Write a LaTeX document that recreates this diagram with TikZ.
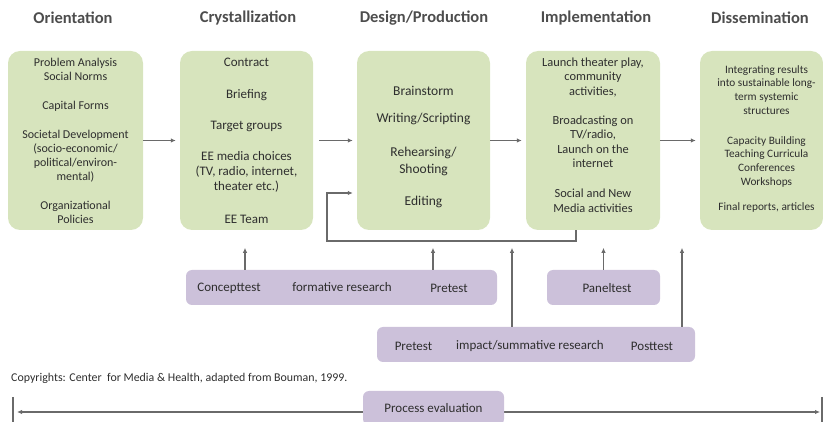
\documentclass[tikz,border=0pt]{standalone}
\usepackage{fontspec}
\setmainfont{Carlito}
\usepackage{xcolor}
\usetikzlibrary{arrows.meta,calc}
\definecolor{phasegreen}{HTML}{D7E4BD}
\definecolor{testpurple}{HTML}{CCC1DA}
\definecolor{flowgray}{HTML}{6A6A6A}
\definecolor{textgray}{HTML}{2E2E2E}
\tikzset{
    heading/.style={text=textgray!85!white, font=\fontsize{16.5}{18}\selectfont\bfseries},
    phase/.style={fill=phasegreen, rounded corners=12pt, minimum height=179pt, inner sep=0pt},
    phasetext/.style={text=textgray, align=center, inner sep=0pt},
    testbox/.style={fill=testpurple, rounded corners=6pt, minimum height=35pt, inner sep=0pt},
    testtext/.style={text=textgray, inner sep=0pt, font=\fontsize{13}{15}\selectfont},
    flow/.style={draw=flowgray, line width=1.1pt, -{Latex[length=5pt,width=4.5pt]}, shorten >=4pt}
}
\begin{document}
\begin{tikzpicture}[x=1pt,y=-1pt]
    \useasboundingbox (0,0) rectangle (823,422);
    \clip (0,0) rectangle (823,422);
    \node[heading] (hOrient) at (73,18) {Orientation};
    \node[heading] (hCryst) at (248,18) {Crystallization};
    \node[heading] (hDesign) at (424,18) {Design/Production};
    \node[heading] (hImpl) at (596,18) {Implementation};
    \node[heading] (hDiss) at (760,18) {Dissemination};
    \node[phase, minimum width=135pt] (orient) at (75.5,140.5) {};
    \node[phase, minimum width=133pt] (cryst) at (246.5,140.5) {};
    \node[phase, minimum width=133pt] (design) at (423.5,140.5) {};
    \node[phase, minimum width=134pt] (impl) at (593,140.5) {};
    \node[phase, minimum width=123pt] (diss) at (761.5,140.5) {};
    \node[phasetext, font=\fontsize{12}{14}\selectfont] (orientT) at (orient.center)
        {Problem Analysis\\Social Norms\\[15pt]Capital Forms\\[15pt]Societal Development\\(socio-economic/\\political/environ-\\mental)\\[15pt]Organizational\\Policies};
    \node[phasetext, font=\fontsize{13}{15}\selectfont] (crystT) at (cryst.center)
        {Contract\\[17pt]Briefing\\[16pt]Target groups\\[16pt]EE media choices\\(TV, radio, internet,\\theater etc.)\\[18pt]EE Team};
    \node[phasetext, font=\fontsize{13.5}{17}\selectfont] (designT) at ([yshift=-6.5pt]design.center)
        {Brainstorm\\[10pt]Writing/Scripting\\[17pt]Rehearsing/\\Shooting\\[15pt]Editing};
    \node[phasetext, font=\fontsize{12.4}{14.5}\selectfont] (implT) at ([yshift=5.5pt]impl.center)
        {Launch theater play,\\community\\activities,\\[14.5pt]Broadcasting on\\TV/radio,\\Launch on the\\internet\\[15.5pt]Social and New\\Media activities};
    \node[phasetext, font=\fontsize{11.3}{13.7}\selectfont] (dissT) at ([xshift=5pt,yshift=1.5pt]diss.center)
        {Integrating results\\into sustainable long-\\term systemic\\structures\\[16pt]Capacity Building\\Teaching Curricula\\Conferences\\Workshops\\[12pt]Final reports, articles};
    \draw[flow] (orient) -- (cryst);
    \draw[flow, shorten <=6pt] (cryst) -- (design);
    \draw[flow] (design) -- (impl);
    \draw[flow] (impl) -- (diss);
    \draw[flow] ([xshift=-17pt]impl.south) |- (327,241) |- ([yshift=-52.5pt]design.west);
    \node[testbox, minimum width=311pt] (formative) at (341.5,287.5) {};
    \node[testtext] (concept) at (229,288) {Concepttest};
    \node[testtext] (formres) at (342,287) {formative research};
    \node[testtext] (pretestA) at (449,288) {Pretest};
    \node[testbox, minimum width=113pt] (panel) at (603.5,287.5) {};
    \node[testtext] (panelT) at (607,288) {Paneltest};
    \node[testbox, minimum width=318pt] (summative) at (536,344.5) {};
    \node[testtext] (pretestB) at (413.5,346) {Pretest};
    \node[testtext] (sumres) at (530,346) {impact/summative research};
    \node[testtext] (posttest) at (652,346) {Posttest};
    \draw[flow, shorten >=0pt] ([xshift=-96.5pt]formative.north) -- ++(0,-22);
    \draw[flow, shorten >=0pt] ([xshift=91.5pt]formative.north) -- ++(0,-22);
    \draw[flow, shorten >=0pt] (panel.north) -- ++(0,-22);
    \draw[flow, shorten >=0pt] ([xshift=-24pt]summative.north) -- ++(0,-79);
    \draw[flow, shorten >=0pt] ([xshift=146pt]summative.north) -- ++(0,-79);
    \node[text=textgray, anchor=west, inner sep=0pt, font=\fontsize{11.9}{13}\selectfont] (copyright) at (11,378)
        {Copyrights: Center\ \ for Media \& Health, adapted from Bouman,\ 1999.};
    \coordinate (evalL) at (13,412);
    \coordinate (evalR) at (822,412);
    \draw[flowgray, line width=1.1pt] ([yshift=15pt]evalL) -- ([yshift=-12pt]evalL);
    \draw[flowgray, line width=1.1pt] ([yshift=15pt]evalR) -- ([yshift=-12pt]evalR);
    \draw[flow, {Latex[length=5pt,width=4.5pt]}-{Latex[length=5pt,width=4.5pt]}, shorten <=4pt, shorten >=2pt] (evalL) -- (evalR);
    \node[testbox, minimum width=141pt, minimum height=34pt] (process) at (433.5,408) {};
    \node[testtext] (processT) at (process.center) {Process evaluation};
\end{tikzpicture}
\end{document}
